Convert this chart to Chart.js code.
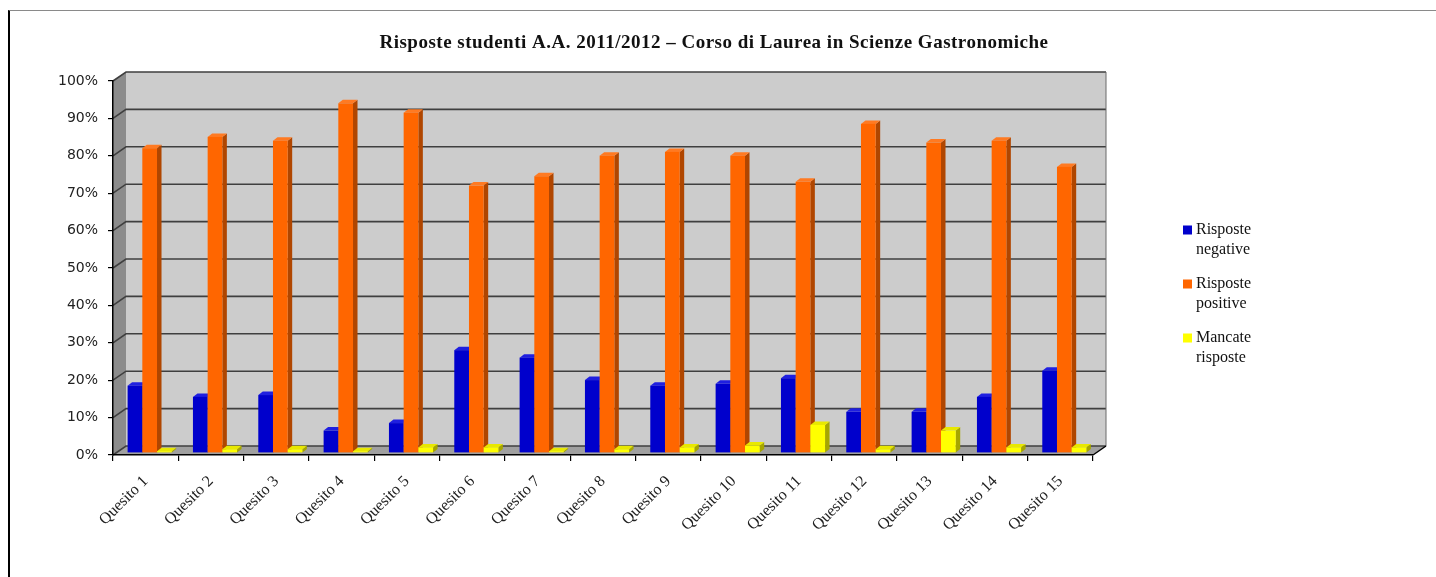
<!DOCTYPE html>
<html><head><meta charset="utf-8">
<script src="https://cdn.jsdelivr.net/npm/chart.js@4/dist/chart.umd.min.js"></script>
<style>
html,body{margin:0;padding:0;background:#fff;}
#wrap{position:relative;width:1436px;height:577px;overflow:hidden;}
#frame{position:absolute;left:8px;top:10px;right:-4px;bottom:-4px;border-left:2px solid #000;border-top:1px solid #8a8a8a;pointer-events:none;}
canvas{position:absolute;left:0;top:0;}
</style></head><body>
<div id="wrap"><canvas id="c" width="1436" height="577"></canvas><div id="frame"></div></div>
<script>
const titleText = 'Risposte studenti A.A. 2011/2012 – Corso di Laurea in Scienze Gastronomiche';
const categories = ['Quesito 1','Quesito 2','Quesito 3','Quesito 4','Quesito 5','Quesito 6','Quesito 7','Quesito 8','Quesito 9','Quesito 10','Quesito 11','Quesito 12','Quesito 13','Quesito 14','Quesito 15'];
const seriesNames = ['Risposte negative','Risposte positive','Mancate risposte'];
const negative = [18, 15, 15.5, 6, 8, 27.5, 25.5, 19.5, 18, 18.5, 20, 11, 11, 15, 22];
const positive = [81.5, 84.5, 83.5, 93.5, 91, 71.5, 74, 79.5, 80.5, 79.5, 72.5, 88, 83, 83.5, 76.5];
const missing = [0.5, 1, 1, 0.5, 1.5, 1.5, 0.5, 1, 1.5, 2, 7.5, 1, 6, 1.5, 1.5];
const yMin = 0, yMax = 100, yStep = 10;

const WALL_DX = 13, WALL_DY = 9;      // depth of the 3D box
const BAR_SX = 4, BAR_SY = -2;        // bars sit slightly inside the box
const BAR_DX = 4.5, BAR_DY = 3.5;     // bar depth

function poly(ctx, pts, fill){
  ctx.beginPath(); ctx.moveTo(pts[0][0], pts[0][1]);
  for (let k = 1; k < pts.length; k++) ctx.lineTo(pts[k][0], pts[k][1]);
  ctx.closePath(); ctx.fillStyle = fill; ctx.fill();
}

const depth3d = {
  id: 'depth3d',
  beforeDraw(chart){
    const {ctx, chartArea: a, scales: {y}} = chart;
    ctx.save();
    poly(ctx, [[a.left+WALL_DX,a.top-WALL_DY],[a.right+WALL_DX,a.top-WALL_DY],[a.right+WALL_DX,a.bottom-WALL_DY],[a.left+WALL_DX,a.bottom-WALL_DY]], '#cccccc');
    poly(ctx, [[a.left,a.top],[a.left+WALL_DX,a.top-WALL_DY],[a.left+WALL_DX,a.bottom-WALL_DY],[a.left,a.bottom]], '#8c8c8c');
    poly(ctx, [[a.left,a.bottom],[a.left+WALL_DX,a.bottom-WALL_DY],[a.right+WALL_DX,a.bottom-WALL_DY],[a.right,a.bottom]], '#a0a0a0');
    ctx.strokeStyle = '#3f3f3f'; ctx.lineWidth = 1.6;
    y.ticks.forEach(t => {
      const py = y.getPixelForValue(t.value);
      ctx.beginPath(); ctx.moveTo(a.left, py); ctx.lineTo(a.left+WALL_DX, py-WALL_DY); ctx.lineTo(a.right+WALL_DX, py-WALL_DY); ctx.stroke();
    });
    ctx.strokeStyle = '#6a6a6a'; ctx.lineWidth = 1;
    ctx.beginPath(); ctx.moveTo(a.right+WALL_DX, a.top-WALL_DY); ctx.lineTo(a.right+WALL_DX, a.bottom-WALL_DY); ctx.stroke();
    ctx.strokeStyle = '#000'; ctx.lineWidth = 1.5;
    ctx.beginPath(); ctx.moveTo(a.right, a.bottom); ctx.lineTo(a.right+WALL_DX, a.bottom-WALL_DY); ctx.stroke();
    ctx.restore();
  },
  beforeDatasetsDraw(chart){
    const ctx = chart.ctx;
    const n = chart.data.labels.length;
    ctx.save();
    for (let j = 0; j < n; j++){
      chart.data.datasets.forEach((ds, i) => {
        const el = chart.getDatasetMeta(i).data[j];
        if (!el) return;
        const p = el.getProps(['x','y','base','width'], true);
        const l = p.x - p.width/2 + BAR_SX, r = p.x + p.width/2 + BAR_SX;
        const t = p.y + BAR_SY, b = p.base + BAR_SY;
        poly(ctx, [[r,t],[r+BAR_DX,t-BAR_DY],[r+BAR_DX,b-BAR_DY],[r,b]], ds.sideColor);
        poly(ctx, [[l,t],[l+BAR_DX,t-BAR_DY],[r+BAR_DX,t-BAR_DY],[r,t]], ds.topColor);
        ctx.fillStyle = ds.backgroundColor; ctx.fillRect(l, t, r-l, b-t);
      });
    }
    ctx.restore();
    return false;
  },
  afterDraw(chart){
    const ctx = chart.ctx;
    ctx.save();
    ctx.fillStyle = '#111';
    ctx.font = 'bold 19px "Liberation Serif"';
    if ('letterSpacing' in ctx) ctx.letterSpacing = '0.5px';
    ctx.textAlign = 'center'; ctx.textBaseline = 'middle';
    ctx.fillText(titleText, 714, 43);
    if ('letterSpacing' in ctx) ctx.letterSpacing = '0px';
    // legend
    ctx.font = '16px "Liberation Serif"';
    ctx.textAlign = 'left';
    chart.data.datasets.forEach((ds, i) => {
      const y0 = 230 + i*54;
      ctx.fillStyle = ds.backgroundColor;
      ctx.fillRect(1183, y0-4.5, 9, 9);
      const words = ds.label.split(' ');
      ctx.fillStyle = '#111';
      ctx.fillText(words[0], 1196, y0);
      ctx.fillText(words.slice(1).join(' '), 1196, y0+20);
    });
    ctx.restore();
  }
};

new Chart(document.getElementById('c'), {
  type: 'bar',
  data: {
    labels: categories,
    datasets: [
      {label: seriesNames[0], data: negative, backgroundColor: '#0000cc', sideColor: '#00007a', topColor: '#1f1fe0'},
      {label: seriesNames[1], data: positive, backgroundColor: '#ff6600', sideColor: '#b04600', topColor: '#ff7a22'},
      {label: seriesNames[2], data: missing, backgroundColor: '#ffff00', sideColor: '#a6a600', topColor: '#e8e800'}
    ]
  },
  options: {
    responsive: false,
    animation: false,
    events: [],
    layout: {padding: {left: 0, right: 343, top: 81, bottom: 0}},
    datasets: {bar: {categoryPercentage: 0.675, barPercentage: 1}},
    plugins: {legend: {display: false}, title: {display: false}, tooltip: {enabled: false}},
    scales: {
      x: {
        offset: true,
        grid: {offset: true, drawOnChartArea: false, drawTicks: true, tickLength: 6, color: '#000', lineWidth: 1.2},
        border: {display: true, color: '#000', width: 1.5},
        ticks: {maxRotation: 45, minRotation: 45, autoSkip: false, padding: 11, color: '#222', font: {family: '"Liberation Serif"', size: 16}},
        afterFit(s){ s.height = 122; }
      },
      y: {
        min: yMin, max: yMax,
        grid: {drawOnChartArea: false, drawTicks: true, tickLength: 5, color: '#000', lineWidth: 1.2},
        border: {display: true, color: '#000', width: 1.5},
        ticks: {stepSize: yStep, padding: 10, color: '#222', font: {family: '"DejaVu Sans"', size: 14}, callback: v => v + '%'},
        afterFit(s){ s.width = 113; }
      }
    }
  },
  plugins: [depth3d]
});
</script>
</body></html>
